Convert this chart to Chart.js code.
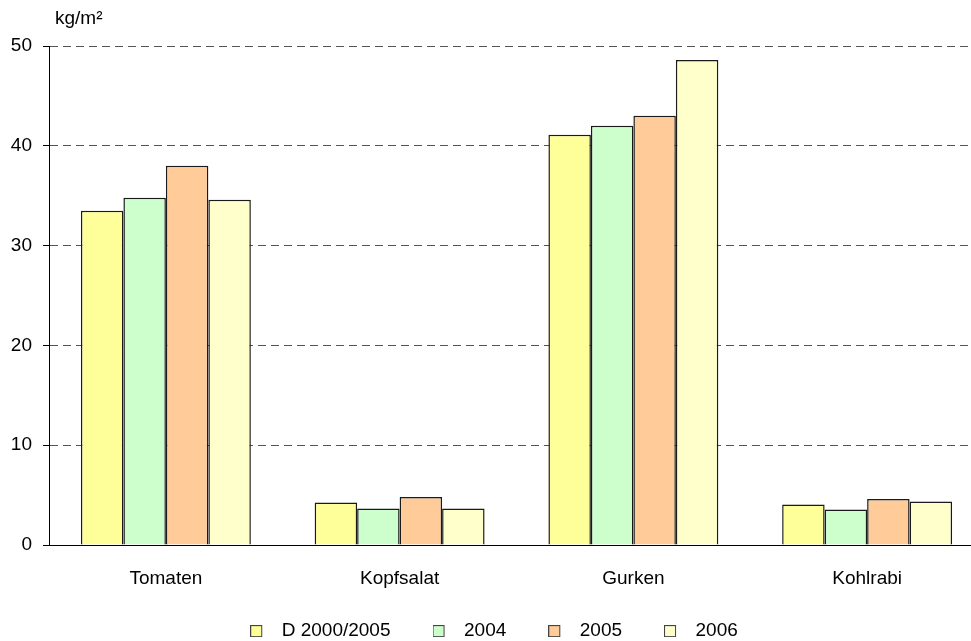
<!DOCTYPE html>
<html><head><meta charset="utf-8">
<script src="https://cdn.jsdelivr.net/npm/chart.js@4"></script>
<style>html,body{margin:0;padding:0;background:#fff;overflow:hidden}#wrap{width:984px;height:641px}</style>
</head><body><div id="wrap"><canvas id="c"></canvas></div>
<script>
const categories = ["Tomaten", "Kopfsalat", "Gurken", "Kohlrabi"];
const seriesNames = ["D 2000/2005", "2004", "2005", "2006"];
const valuesD = [33.5, 4.25, 41.1, 4.05];
const values2004 = [34.8, 3.65, 42.0, 3.55];
const values2005 = [38.0, 4.8, 43.0, 4.6];
const values2006 = [34.6, 3.65, 48.6, 4.35];
const colors = ["#FFFF99", "#CCFFCC", "#FFCC99", "#FFFFCC"];
const yTicks = [0, 10, 20, 30, 40, 50];
const unitLabel = "kg/m²";

const allValues = [valuesD, values2004, values2005, values2006];
const datasets = seriesNames.map((n, i) => ({
  label: n, data: allValues[i], backgroundColor: colors[i],
  borderColor: "#1a1a1a", borderWidth: 1.5,
  categoryPercentage: 0.727, barPercentage: 1.0
}));

// legend marker: box on the left part of a wider transparent canvas
function legendMarker(color) {
  const c = document.createElement("canvas");
  c.width = 22; c.height = 12;
  const g = c.getContext("2d");
  g.fillStyle = color; g.fillRect(0.5, 0.5, 11, 11);
  g.strokeStyle = "#444"; g.lineWidth = 1; g.strokeRect(0.5, 0.5, 11, 11);
  return c;
}

const LP = 42;
const LEGEND_H = 36;
const LEGEND_SHIFT_Y = -25.4;
const LEGEND_SHIFT_X = 2;

const layoutPlugin = {
  id: "layoutTweaks",
  afterInit(chart) {
    const lg = chart.legend;
    if (lg) {
      const fit = lg.fit.bind(lg);
      lg.fit = function () { fit(); this.height = LEGEND_H; };
      const draw = lg.draw.bind(lg);
      lg.draw = function () {
        const t = this.top, l = this.left, r = this.right;
        this.top += LEGEND_SHIFT_Y; this.left += LEGEND_SHIFT_X; this.right += LEGEND_SHIFT_X;
        draw();
        this.top = t; this.left = l; this.right = r;
      };
    }
  },
  afterDraw(chart) {
    const ctx = chart.ctx;
    ctx.save();
    ctx.font = "19px 'Liberation Sans', Arial, sans-serif";
    ctx.fillStyle = "#000";
    ctx.textBaseline = "middle";
    ctx.fillText(unitLabel, chart.chartArea.left + 6, 19);
    ctx.restore();
  }
};

Chart.defaults.font.family = "'Liberation Sans', Arial, sans-serif";
Chart.defaults.font.size = 19;
Chart.defaults.color = "#000";

new Chart(document.getElementById("c"), {
  type: "bar",
  data: { labels: categories, datasets },
  options: {
    responsive: true, maintainAspectRatio: false, animation: false,
    layout: { padding: { top: 46, right: 0, left: 0, bottom: 0 } },
    plugins: {
      legend: {
        position: "bottom",
        labels: {
          usePointStyle: true, pointStyleWidth: 22, boxHeight: 12,
          padding: LP, color: "#000", font: { size: 19 },
          generateLabels(chart) {
            return chart.data.datasets.map((ds, i) => ({
              text: ds.label, fillStyle: ds.backgroundColor, strokeStyle: "#444",
              lineWidth: 1, pointStyle: legendMarker(ds.backgroundColor),
              hidden: false, datasetIndex: i, fontColor: "#000"
            }));
          }
        }
      },
      tooltip: { enabled: false }
    },
    scales: {
      x: {
        afterFit(s) { s.height = 60; },
        grid: { display: false, drawTicks: false },
        border: { display: true, color: "#000", width: 1 },
        ticks: { padding: 22, font: { size: 19 } }
      },
      y: {
        min: 0, max: 50,
        afterFit(s) { s.width = 49; },
        afterBuildTicks(s) { s.ticks = yTicks.map(v => ({ value: v })); },
        grid: { color: "#555", tickLength: 6, tickColor: "#000", tickBorderDash: [] },
        border: { display: true, color: "#000", width: 1, dash: [8, 5] },
        ticks: { padding: 11, font: { size: 19 } }
      }
    }
  },
  plugins: [layoutPlugin]
});
</script></body></html>
